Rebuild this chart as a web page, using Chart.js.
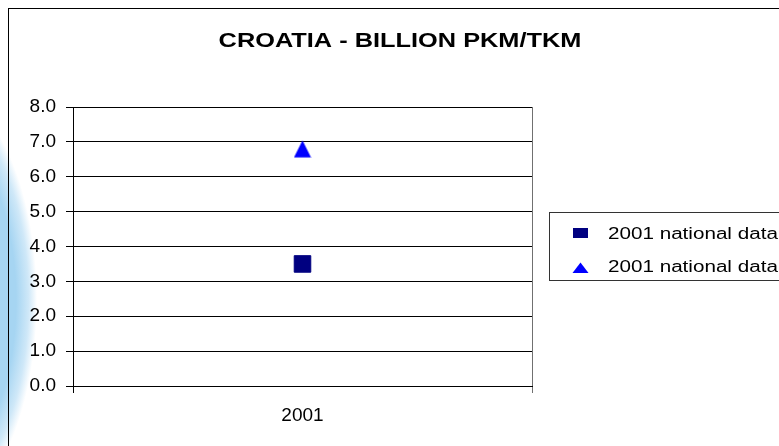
<!DOCTYPE html>
<html>
<head>
<meta charset="utf-8">
<title>Croatia - billion pkm/tkm</title>
<script src="https://cdn.jsdelivr.net/npm/chart.js@4.4.1/dist/chart.umd.min.js"></script>
<style>
  html, body { margin: 0; padding: 0; }
  body {
    width: 779px; height: 446px; overflow: hidden;
    background:
      radial-gradient(ellipse 105px 215px at -68px 300px,
        #a6d5f2 0%, #a6d5f2 80%, #cfe8f8 92%, rgba(255,255,255,0) 100%),
      #fff;
  }
  canvas { display: block; }
</style>
</head>
<body>
<canvas id="chart" width="779" height="446"></canvas>
<script>
// ---- data ----
const chartTitle = 'CROATIA - BILLION PKM/TKM';
const categories = ['2001'];
const seriesNames = ['2001 national data', '2001 national data'];
const squareValues = [3.5];
const triangleValues = [6.8];
const yTickValues = [0, 1, 2, 3, 4, 5, 6, 7, 8];

const colors = {
  navy: '#000080',
  blue: '#0000FF',
  grid: '#000000',
  edge: '#707070'
};
const fontFamily = "'Liberation Sans', Arial, sans-serif";

// triangle marker as a small canvas (Excel style, as tall as wide)
function triangleMarker(size, color) {
  const cv = document.createElement('canvas');
  cv.width = size; cv.height = size;
  const c = cv.getContext('2d');
  c.fillStyle = color;
  c.beginPath();
  c.moveTo(size / 2, 0.5);
  c.lineTo(size - 0.5, size - 0.5);
  c.lineTo(0.5, size - 0.5);
  c.closePath();
  c.fill();
  return cv;
}
const triMarker = triangleMarker(18, colors.blue);

// frame, title and boxed legend
const decor = {
  id: 'decor',
  beforeDraw(chart) {
    const c = chart.ctx;
    c.save();
    c.strokeStyle = '#000';
    c.lineWidth = 1;
    c.strokeRect(8.5, 8.5, 900, 600);
    c.restore();
  },
  afterDraw(chart) {
    const c = chart.ctx;
    // title
    c.save();
    c.fillStyle = '#000';
    c.font = 'bold 19.5px ' + fontFamily;
    c.textAlign = 'center';
    c.textBaseline = 'alphabetic';
    c.translate(400, 47);
    c.scale(1.3, 1);
    c.fillText(chartTitle, 0, 0);
    c.restore();

    // legend box
    c.save();
    c.strokeStyle = '#333';
    c.lineWidth = 1;
    c.strokeRect(549.5, 212.5, 300, 68);
    const ds = chart.data.datasets;
    // square entry
    c.fillStyle = ds[0].backgroundColor;
    c.fillRect(573, 228, 15, 10);
    // triangle entry
    c.fillStyle = colors.blue;
    c.beginPath();
    c.moveTo(580.5, 262.5);
    c.lineTo(588.5, 273);
    c.lineTo(572.5, 273);
    c.closePath();
    c.fill();
    // texts
    c.fillStyle = '#000';
    c.font = '16px ' + fontFamily;
    c.textBaseline = 'alphabetic';
    [[ds[0].label, 238.5], [ds[1].label, 272]].forEach(([txt, y]) => {
      c.save();
      c.translate(608, y);
      c.scale(1.29, 1);
      c.fillText(txt, 0, 0);
      c.restore();
    });
    c.restore();
  }
};

new Chart(document.getElementById('chart'), {
  type: 'line',
  data: {
    labels: categories,
    datasets: [
      {
        label: seriesNames[0],
        data: squareValues,
        showLine: false,
        pointStyle: 'rect',
        pointRadius: 11.7,
        pointBorderWidth: 1,
        backgroundColor: colors.navy,
        borderColor: colors.navy
      },
      {
        label: seriesNames[1],
        data: triangleValues,
        showLine: false,
        pointStyle: triMarker,
        pointRadius: 9,
        backgroundColor: colors.blue,
        borderColor: colors.blue
      }
    ]
  },
  options: {
    responsive: false,
    animation: false,
    devicePixelRatio: 1,
    events: [],
    layout: { padding: { top: 107, right: 247, bottom: 0, left: 0 } },
    plugins: {
      legend: { display: false },
      title: { display: false },
      tooltip: { enabled: false }
    },
    scales: {
      x: {
        type: 'category',
        offset: true,
        afterFit: (s) => { s.height = 60; },
        grid: {
          offset: true,
          drawOnChartArea: true,
          tickLength: 7,
          lineWidth: 1,
          color: (ctx) => ctx.index === 0 ? colors.grid : colors.edge
        },
        border: { display: true, color: colors.grid, width: 1 },
        ticks: {
          color: '#000',
          padding: 11,
          font: { family: fontFamily, size: 19 }
        }
      },
      y: {
        min: 0,
        max: 8,
        afterFit: (s) => { s.width = 73; },
        afterBuildTicks: (s) => { s.ticks = yTickValues.map(v => ({ value: v })); },
        grid: { color: colors.grid, lineWidth: 1, tickLength: 7 },
        border: { display: true, color: colors.grid, width: 1 },
        ticks: {
          color: '#000',
          padding: 10,
          font: { family: fontFamily, size: 19 },
          callback: (v) => Number(v).toFixed(1)
        }
      }
    }
  },
  plugins: [decor]
});
</script>
</body>
</html>
